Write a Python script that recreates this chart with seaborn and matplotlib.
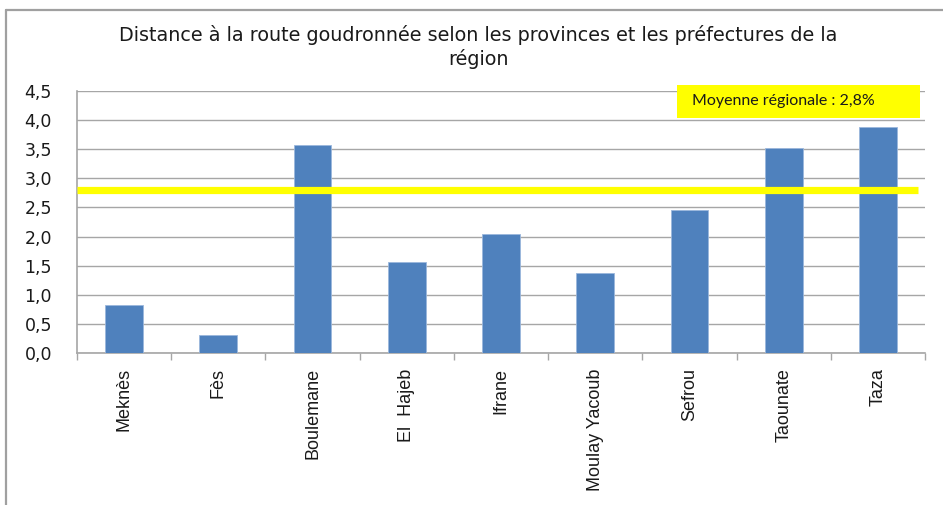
import matplotlib
matplotlib.use("Agg")
import matplotlib.pyplot as plt
from matplotlib.lines import Line2D
from matplotlib.patches import Rectangle
from matplotlib.ticker import FuncFormatter, FixedLocator
import seaborn as sns
import pandas as pd

provinces = ["Meknès", "Fès", "Boulemane", "El  Hajeb", "Ifrane",
             "Moulay Yacoub", "Sefrou", "Taounate", "Taza"]
distances = [0.82, 0.31, 3.57, 1.56, 2.05, 1.37, 2.46, 3.52, 3.88]
regional_mean = 2.8
mean_label = "Moyenne régionale : 2,8%"
title = "Distance à la route goudronnée selon les provinces et les préfectures de la\nrégion"
y_ticks = [0.0, 0.5, 1.0, 1.5, 2.0, 2.5, 3.0, 3.5, 4.0, 4.5]

sns.set_theme(style="white")
plt.rcParams["font.family"] = ["Liberation Sans", "DejaVu Sans"]

W, H = 943, 505
fig = plt.figure(figsize=(W / 100, H / 100), dpi=100)
ax = fig.add_axes([77 / W, 1 - 353 / H, (925 - 77) / W, (353 - 91) / H])

df = pd.DataFrame({"province": provinces, "distance": distances})
sns.barplot(data=df, x="province", y="distance", color="#4F81BD",
            width=0.4, edgecolor="#9bb7dc", linewidth=0.6, saturation=1,
            ax=ax, zorder=3)

grid_c = "#a6a6a6"
txt_c = "#1a1a1a"
ax.set_xlim(-0.5, len(provinces) - 0.5)
ax.set_ylim(0, 4.5)
ax.set_yticks(y_ticks)
ax.yaxis.set_major_formatter(FuncFormatter(lambda v, p: f"{v:.1f}".replace(".", ",")))
ax.grid(axis="y", color=grid_c, linewidth=1.0, zorder=0)
ax.grid(axis="x", visible=False)
ax.set_axisbelow(True)
ax.set_xlabel("")
ax.set_ylabel("")

for s in ["top", "right"]:
    ax.spines[s].set_visible(False)
for s in ["left", "bottom"]:
    ax.spines[s].set_color(grid_c)
    ax.spines[s].set_linewidth(1.2)

ax.tick_params(axis="y", which="major", length=8, width=1, color=grid_c,
               direction="out", labelcolor=txt_c, pad=10)
ax.tick_params(axis="x", which="major", length=0, labelcolor=txt_c, pad=11)
ax.xaxis.set_minor_locator(FixedLocator([i - 0.5 for i in range(len(provinces) + 1)]))
ax.tick_params(axis="x", which="minor", length=5, width=1, color=grid_c,
               direction="out", bottom=True)
for lbl in ax.get_yticklabels():
    lbl.set_fontfamily(["DejaVu Sans"])
    lbl.set_fontsize(12.5)
for lbl in ax.get_xticklabels():
    lbl.set_rotation(90)
    lbl.set_va("top")
    lbl.set_ha("center")
    lbl.set_fontsize(13)

# regional average line
x_end = (918 - 77) / ((925 - 77) / len(provinces)) - 0.5
ax.plot([-0.5, x_end], [regional_mean, regional_mean], color="#FFFF00",
        linewidth=5.2, solid_capstyle="butt", zorder=4, clip_on=False)

# legend box for the average
fig.add_artist(Rectangle((677 / W, 1 - 118 / H), (920 - 677) / W, 33 / H,
                         transform=fig.transFigure, facecolor="#FFFF00",
                         edgecolor="none", zorder=5))
fig.text(692 / W, 1 - 101.5 / H, mean_label, fontsize=11.5,
         family=["Lato", "DejaVu Sans"], color=txt_c,
         ha="left", va="center", zorder=6)

fig.text(478 / W, 1 - 47 / H, title, fontsize=13.8, ha="center", va="center",
         family=["DejaVu Sans"], color=txt_c, linespacing=1.2)

# chart frame
fig.add_artist(Line2D([5.5 / W, 1], [1 - 10 / H, 1 - 10 / H],
                      transform=fig.transFigure, color="#a0a0a0", linewidth=1.6))
fig.add_artist(Line2D([5.5 / W, 5.5 / W], [0, 1 - 10 / H],
                      transform=fig.transFigure, color="#a0a0a0", linewidth=1.6))

fig.savefig("out.png", dpi=100)
